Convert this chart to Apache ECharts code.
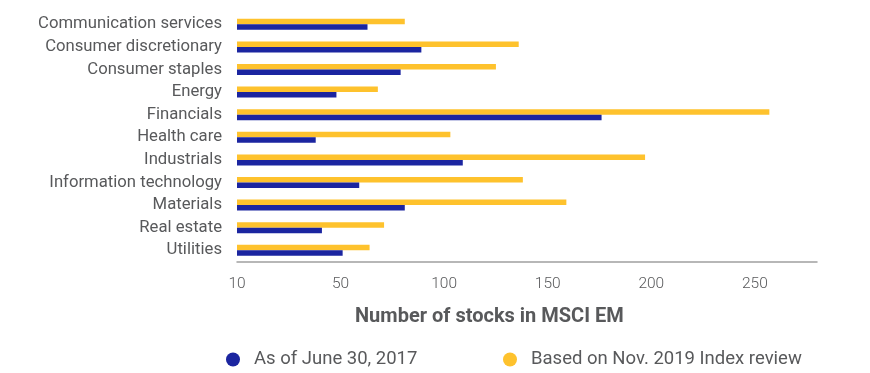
<!DOCTYPE html>
<html><head><meta charset="utf-8">
<script src="https://cdn.jsdelivr.net/npm/echarts@6/dist/echarts.min.js"></script>
<style>html,body{margin:0;padding:0;background:#fff}#c{width:870px;height:373px}</style>
</head><body><div id="c"></div>
<script>
const categories = ['Communication services','Consumer discretionary','Consumer staples','Energy','Financials','Health care','Industrials','Information technology','Materials','Real estate','Utilities'];
const june2017 = [63, 89, 79, 48, 176, 38, 109, 59, 81, 41, 51];
const nov2019 = [81, 136, 125, 68, 257, 103, 197, 138, 159, 71, 64];
const seriesNames = ['As of June 30, 2017', 'Based on Nov. 2019 Index review'];
const tickValues = [0, 50, 100, 150, 200, 250];
const tickLabels = ['10', '50', '100', '150', '200', '250'];
const axisTitle = 'Number of stocks in MSCI EM';

const chart = echarts.init(document.getElementById('c'), null, {renderer: 'canvas'});
const txt = '#58595b';
const blue = '#1b25a0';
const yellow = '#fec22d';
chart.setOption({
  animation: false,
  textStyle: {fontFamily: 'Roboto'},
  grid: {left: 237, width: 580, top: 13, height: 248.6, containLabel: false},
  legend: [
    {data: [seriesNames[0]], left: 221, top: 345, icon: 'circle', itemWidth: 32, itemHeight: 14,
     textStyle: {fontSize: 18.5, color: txt, fontFamily: 'Roboto'}},
    {data: [seriesNames[1]], left: 498, top: 345, icon: 'circle', itemWidth: 32, itemHeight: 14,
     textStyle: {fontSize: 18.5, color: txt, fontFamily: 'Roboto'}}
  ],
  graphic: [{type: 'text', left: 355, top: 307, style: {text: axisTitle, fill: txt, font: 'bold 20px Roboto'}}],
  xAxis: {
    type: 'value', min: 0, max: 280, interval: 50,
    splitLine: {show: false},
    axisTick: {show: false},
    axisLine: {show: true, lineStyle: {color: '#a0a0a0', width: 1.5}},
    axisLabel: {
      margin: 15, fontSize: 15.5, color: txt, fontWeight: 300,
      formatter: v => { const i = tickValues.indexOf(v); return i >= 0 ? tickLabels[i] : ''; }
    }
  },
  yAxis: {
    type: 'category', data: categories, inverse: true,
    axisLine: {show: false}, axisTick: {show: false},
    axisLabel: {margin: 15, fontSize: 16.7, color: txt}
  },
  series: [
    {name: seriesNames[1], type: 'bar', data: nov2019, barWidth: 5.5, barGap: '0%', itemStyle: {color: yellow}},
    {name: seriesNames[0], type: 'bar', data: june2017, barWidth: 5.5, barGap: '0%', itemStyle: {color: blue}}
  ]
});
</script></body></html>
